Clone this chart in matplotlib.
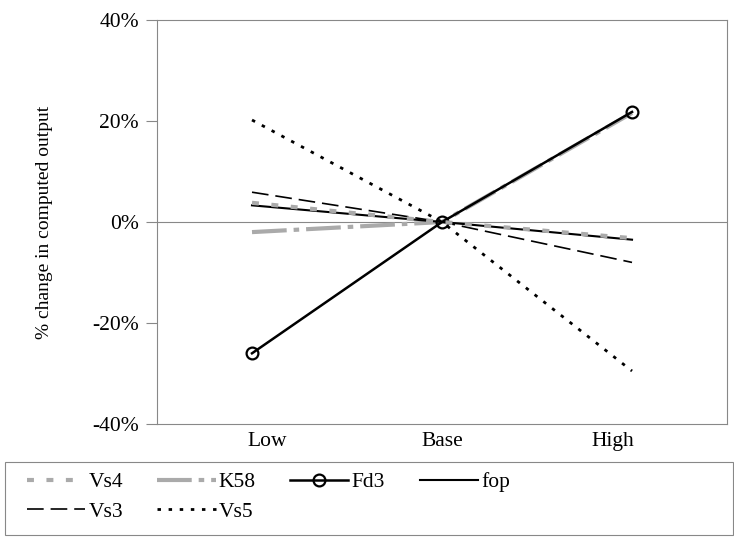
import matplotlib
matplotlib.use("Agg")
import matplotlib.pyplot as plt
from matplotlib.ticker import FuncFormatter
from matplotlib.patches import Rectangle

# sensitivity data, % change in computed output
cases = ["Low", "Base", "High"]
Vs4 = [3.8, 0.0, -3.2]
K58 = [-2.0, 0.0, 21.6]
Fd3 = [-26.0, 0.0, 21.8]
fop = [3.3, 0.0, -3.5]
Vs3 = [5.9, 0.0, -8.0]
Vs5 = [20.2, 0.0, -29.5]

plt.rcParams["font.family"] = ["Liberation Serif", "DejaVu Serif"]
plt.rcParams["lines.scale_dashes"] = False

fig = plt.figure(figsize=(7.34, 5.38), dpi=100)
ax = fig.add_axes([0.2139, 0.2119, 0.7766, 0.7509])

x = range(len(cases))
gray = "#aaaaaa"

l_vs4, = ax.plot(x, Vs4, color=gray, lw=3, dashes=(5, 9), zorder=4)
l_k58, = ax.plot(x, K58, color=gray, lw=3, dashes=(25, 5, 4, 5), zorder=2)
l_fd3, = ax.plot(x, Fd3, color="black", lw=1.8, marker="o", ms=8.5,
                 mfc="none", mec="black", mew=1.6, zorder=3)
l_fop, = ax.plot(x, fop, color="black", lw=1.5, zorder=3)
l_vs3, = ax.plot(x, Vs3, color="black", lw=1.2, dashes=(12, 5), zorder=3)
l_vs5, = ax.plot(x, Vs5, color="black", lw=2, dashes=(2.5, 5.5), zorder=3)

# zero line
ax.axhline(0, color="#888888", lw=0.8, zorder=1)

ax.set_xlim(-0.5, 2.5)
ax.set_ylim(-40, 40)
ax.set_yticks([-40, -20, 0, 20, 40])
ax.yaxis.set_major_formatter(FuncFormatter(lambda v, p: "%d%%" % v))
# category labels sit a bit inside the outer points, as in the original
ax.set_xticks([0.08, 1, 1.9])
ax.set_xticklabels(cases)
ax.tick_params(axis="y", direction="out", length=8, width=0.8, color="#888888",
               labelsize=15.5, pad=5)
ax.tick_params(axis="x", length=0, labelsize=15.5, pad=6)

for s in ax.spines.values():
    s.set_color("#888888")
    s.set_linewidth(0.8)

ax.set_ylabel("% change in computed output", fontsize=14)
ax.yaxis.set_label_coords(-0.182, 0.5)

# legend box across the bottom
fig.patches.append(Rectangle((5 / 734, 3 / 538), 728 / 734, 73 / 538,
                             transform=fig.transFigure, fill=False,
                             edgecolor="#888888", lw=0.8))
handles = [l_vs4, l_vs3, l_k58, l_vs5, l_fd3, l_fop]
labels = ["Vs4", "Vs3", "K58", "Vs5", "Fd3", "fop"]
leg = fig.legend(handles, labels, ncol=4, loc="upper left",
                 bbox_to_anchor=(27 / 734, 1 - 472 / 538),
                 fontsize=15.5, handlelength=2.7, handletextpad=0.15,
                 columnspacing=1.6, labelspacing=0.45,
                 frameon=False, borderaxespad=0, borderpad=0)

fig.savefig("out.png", dpi=100)
